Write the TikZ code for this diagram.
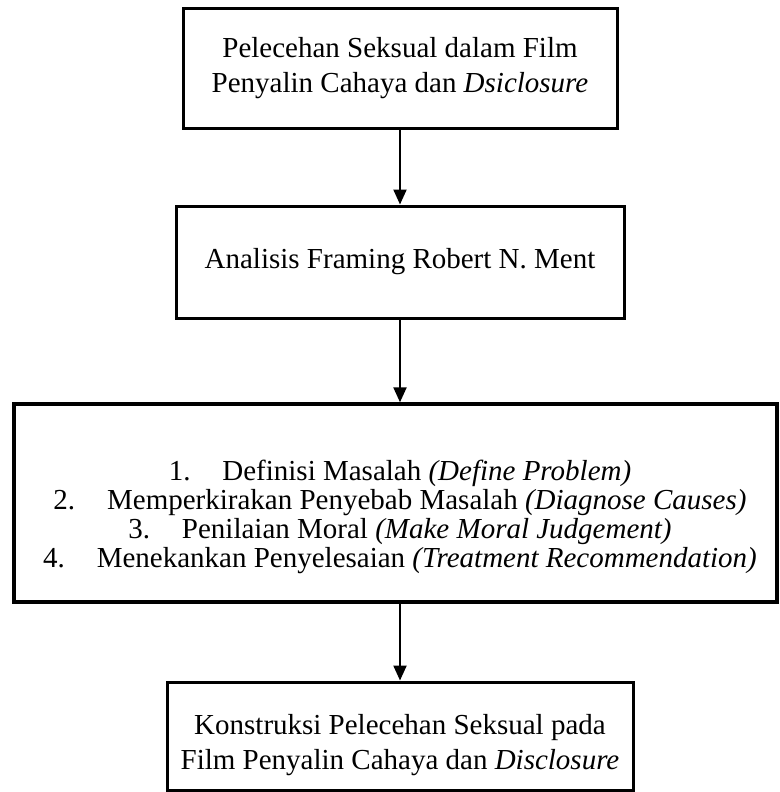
\documentclass[tikz,border=0pt]{standalone}
\usepackage{fontspec}
\setmainfont{Liberation Serif}
\usetikzlibrary{arrows.meta}
\begin{document}
\begin{tikzpicture}[x=1pt,y=-1pt,
  box/.style={draw, line width=3pt, align=center, inner sep=0pt, font=\fontsize{29}{35}\selectfont},
  txt/.style={align=center, inner sep=0pt, font=\fontsize{29}{35}\selectfont},
  conn/.style={line width=2.2pt, -{Triangle[length=15pt,width=13pt]}}]
\useasboundingbox (0,0) rectangle (779,792);
\node[box, minimum width=434pt, minimum height=119pt] (b1) at (400,68.5)
  {Pelecehan Seksual dalam Film\\Penyalin Cahaya dan \textit{Dsiclosure}};
\node[box, minimum width=448pt, minimum height=112pt] (b2) at (400,262)
  {Analisis Framing Robert N. Ment};
\node[box, line width=3.4pt, minimum width=763pt, minimum height=198pt] (b3) at (395.5,503) {};
\node[txt, font=\fontsize{29}{29}\selectfont] (t3) at (400,517)
  {1.\hspace{1.1em}Definisi Masalah \textit{(Define Problem)}\\
   2.\hspace{1.1em}Memperkirakan Penyebab Masalah \textit{(Diagnose Causes)}\\
   3.\hspace{1.1em}Penilaian Moral \textit{(Make Moral Judgement)}\\
   4.\hspace{1.1em}Menekankan Penyelesaian \textit{(Treatment Recommendation)}};
\node[box, minimum width=466pt, minimum height=108pt] (b4) at (400,736) {};
\node[txt] (t4) at (400,745)
  {Konstruksi Pelecehan Seksual pada\\Film Penyalin Cahaya dan \textit{Disclosure}};
\draw[conn] (b1.south) -- (b2.north);
\draw[conn] (b2.south) -- (b2.south |- b3.north);
\draw[conn] (b2.south |- b3.south) -- (b4.north);
\end{tikzpicture}
\end{document}
